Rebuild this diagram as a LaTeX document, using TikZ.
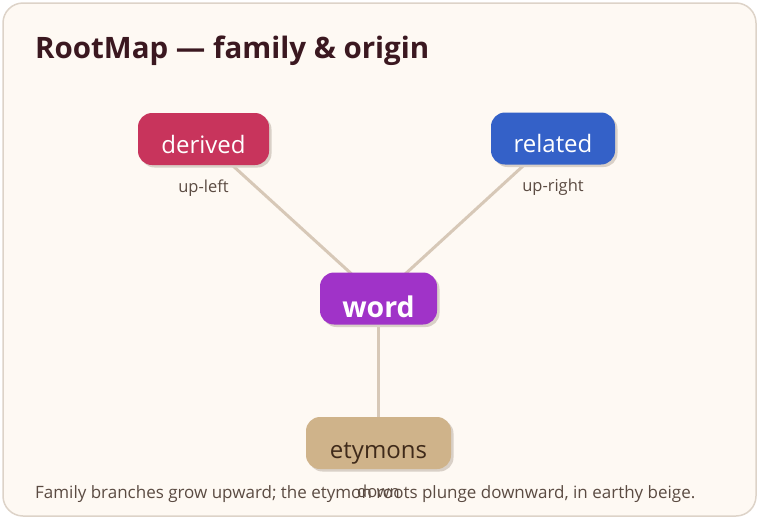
\documentclass[tikz,border=0pt]{standalone}
\usepackage{fontspec}
\setmainfont{Open Sans}
\usetikzlibrary{positioning,shadows,backgrounds}
\definecolor{paper}{HTML}{FEF9F3}
\definecolor{rim}{HTML}{DDD3C8}
\definecolor{ink}{HTML}{3B1820}
\definecolor{grey}{HTML}{5B4B42}
\definecolor{twig}{HTML}{D7C8B7}
\definecolor{shade}{HTML}{D9D0C7}
\definecolor{crimson}{HTML}{C8345C}
\definecolor{cobalt}{HTML}{3461C8}
\definecolor{violet}{HTML}{A033C8}
\definecolor{beige}{HTML}{CFB38A}
\definecolor{soil}{HTML}{3F2A1A}
\begin{document}
\begin{tikzpicture}[x=1pt,y=-1pt,
  box/.style = {rounded corners=14pt, minimum height=52pt, inner sep=0pt,
    text height=28pt, text depth=0pt,
    text=white, font=\fontsize{24}{28}\selectfont,
    drop shadow={shadow xshift=2.5pt, shadow yshift=-2.5pt, fill=shade, opacity=1}},
  tag/.style = {text=grey, font=\fontsize{16.5}{20}\selectfont},
  twig/.style = {draw=twig, line width=3pt}]
        \useasboundingbox (0,0) rectangle (760,520);
        \node[anchor=base west, inner sep=0pt, text=ink, font=\fontsize{29.5}{34}\bfseries\selectfont] (title) at (35,58) {RootMap — family \& origin};
        \node[box, fill=violet, minimum width=117pt, text height=37pt, font=\fontsize{28.5}{32}\bfseries\selectfont] (word) at (378.5,298.5) {word};
        \node[box, fill=crimson, minimum width=131pt] (derived) at ([shift={(-175,-159.5)}]word) {derived};
        \node[box, fill=cobalt, minimum width=124pt] (related) at ([shift={(174.5,-160)}]word) {related};
        \node[box, fill=beige, minimum width=145pt, text=soil, text height=30pt] (etymons) at ([shift={(0,144.5)}]word) {etymons};
        \begin{pgfonlayer}{background}
        \draw[rim, fill=paper, line width=1.5pt, rounded corners=20pt] (3,3) rectangle (756,516);
        \draw[twig] (derived.center) -- (word.center);
        \draw[twig] (related.center) -- (word.center);
        \draw[twig] (word.center) -- (etymons.center);
        \end{pgfonlayer}
        \node[tag] (ul) at ([yshift=-22.5pt]derived.south) {up-left};
        \node[tag] (ur) at ([yshift=-22.5pt]related.south) {up-right};
        \node[anchor=base west, inner sep=0pt, text=grey, font=\fontsize{17}{20}\selectfont] (note) at (35,498) {Family branches grow upward; the etymon roots plunge downward, in earthy beige.};
        \node[tag] (dn) at ([yshift=-22pt]etymons.south) {down};
\end{tikzpicture}
\end{document}
